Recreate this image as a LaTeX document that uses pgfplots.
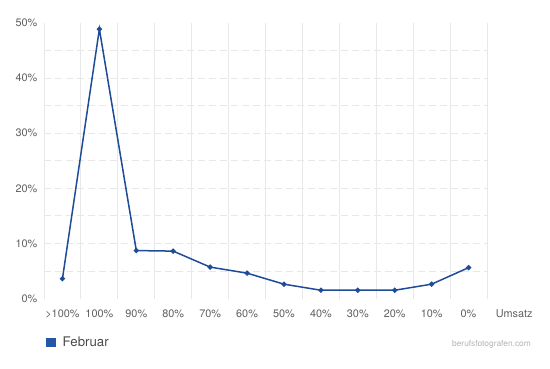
\documentclass[border=0pt]{standalone}
\usepackage{fontspec}
\setmainfont{TeX Gyre Heros}
\usepackage{pgfplots}
\pgfplotsset{compat=1.18}
\definecolor{lineblue}{RGB}{30,76,152}
\definecolor{legblue}{RGB}{36,88,166}
\definecolor{gridgray}{RGB}{232,232,232}
\definecolor{dashgray}{RGB}{232,232,232}
\definecolor{ticktext}{RGB}{95,95,95}
\definecolor{legtext}{RGB}{75,75,75}
\definecolor{marktext}{RGB}{180,180,180}
\begin{document}
\begin{tikzpicture}[x=1bp,y=1bp]
\path[use as bounding box] (0,0) rectangle (550,368);
\begin{axis}[
  at={(44bp,69.5bp)}, anchor=south west,
  scale only axis, width=443bp, height=275.5bp,
  xmin=-0.5, xmax=11.5, ymin=0, ymax=50,
  axis line style={draw=none},
  tick style={draw=none},
  xtick={0,...,11},
  xticklabels={>100\%,100\%,90\%,80\%,70\%,60\%,50\%,40\%,30\%,20\%,10\%,0\%},
  xticklabel style={anchor=base, inner sep=0pt, yshift=-18.5bp, font=\fontsize{10.9}{12}\selectfont, text=ticktext},
  ytick={0,10,20,30,40,50},
  yticklabels={0\%,10\%,20\%,30\%,40\%,50\%},
  yticklabel style={anchor=east, inner sep=0pt, xshift=-6.5bp, font=\fontsize{10.9}{12}\selectfont, text=ticktext},
  minor ytick={5,10,...,45},
  yminorgrids=true,
  minor grid style={draw=dashgray, line width=0.8bp, dash pattern=on 7bp off 4bp},
  extra x ticks={-0.5,0.5,...,11.5},
  extra x tick labels={},
  extra x tick style={xmajorgrids=true, major grid style={draw=gridgray, solid, line width=0.9bp}},
  xlabel={Umsatz},
  xlabel style={at={(rel axis cs:1,0)}, anchor=base west, inner sep=0pt, xshift=8.7bp, yshift=-18.5bp, font=\fontsize{10.9}{12}\selectfont, text=ticktext},
  legend style={at={(rel axis cs:0,0)}, anchor=north west, xshift=2bp, yshift=-38bp, draw=none, fill=none, inner sep=0pt,
    font=\fontsize{13.3}{15}\selectfont, text=legtext, nodes={inner sep=0pt}},
  legend image code/.code={\fill[legblue] (0bp,-4bp) rectangle (8bp,4bp);},
  /tikz/every odd column/.append style={column sep=7bp},
  clip=false,
]
\addplot[color=lineblue, line width=1.5bp, mark=*, mark size=1.8bp, mark options={fill=lineblue, draw=lineblue}]
coordinates {(0,3.6) (1,48.9) (2,8.7) (3,8.6) (4,5.7) (5,4.6) (6,2.6) (7,1.5) (8,1.5) (9,1.5) (10,2.6) (11,5.6)};
\addlegendentry{Februar}
\end{axis}
\node[anchor=base east, inner sep=0pt, font=\fontsize{8.4}{10}\selectfont, text=marktext] at (531bp,21.5bp) {berufsfotografen.com};
\end{tikzpicture}
\end{document}
